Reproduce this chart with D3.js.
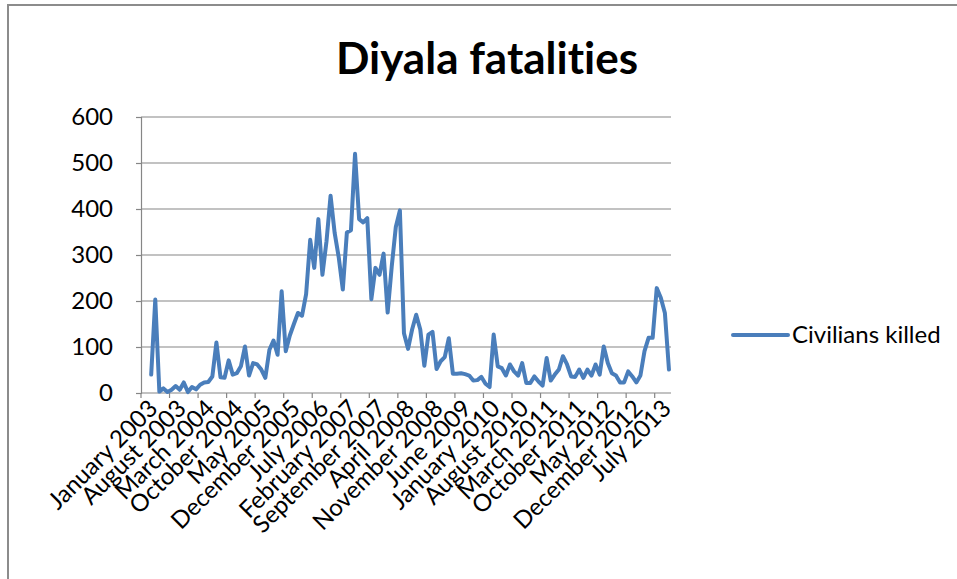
<!DOCTYPE html>
<html lang="en">
<head>
	<meta charset="UTF-8">
	<title>Diyala fatalities</title>
	<script src="https://cdn.jsdelivr.net/npm/d3@7"></script>
	<style>
		body { margin: 0; background: #fff; }
		svg { display: block; }
		text { font-family: Lato, "Open Sans", sans-serif; fill: #000; font-variant-ligatures: none; }
	</style>
</head>
<body>
	<svg id="chart" width="957" height="579"></svg>

	<script>
		// monthly categories, January 2003 .. October 2013
		var monthNames = ["January", "February", "March", "April", "May", "June", "July",
			"August", "September", "October", "November", "December"];
		var years = [2003, 2004, 2005, 2006, 2007, 2008, 2009, 2010, 2011, 2012, 2013];
		var lastMonthIndex = 9; // October 2013

		// civilians killed per month (null = no data)
		var civilians = [
			null, null, 40, 203, 3, 10, 2, 7, 15, 7, 23, 2,
			13, 8, 18, 23, 24, 36, 110, 34, 33, 71, 40, 43,
			58, 101, 38, 65, 62, 51, 33, 94, 114, 83, 221, 91,
			125, 150, 174, 168, 215, 333, 272, 378, 257, 330, 429, 348,
			295, 225, 349, 354, 520, 378, 371, 380, 204, 272, 257, 303,
			175, 275, 361, 397, 130, 96, 138, 170, 138, 59, 127, 133,
			52, 69, 78, 119, 42, 42, 43, 41, 38, 27, 28, 35,
			20, 13, 127, 58, 54, 38, 62, 47, 38, 65, 22, 22,
			36, 25, 16, 76, 27, 40, 51, 80, 62, 36, 35, 51,
			33, 51, 38, 62, 40, 101, 65, 43, 38, 23, 23, 47,
			36, 23, 38, 91, 120, 120, 228, 207, 174, 51
		];

		var yTicks = [0, 100, 200, 300, 400, 500, 600];
		var labelEvery = 7;
		var seriesName = "Civilians killed";
		var title = "Diyala fatalities";

		var categories = [];
		years.forEach(function(y) {
			monthNames.forEach(function(m, i) {
				if (y < years[years.length - 1] || i <= lastMonthIndex) {
					categories.push(m + " " + y);
				}
			});
		});

		var svg = d3.select("#chart");
		var plot = {left: 141, right: 671, top: 117, bottom: 393};
		var grey = "#868686";
		var blue = "#4a7ebb";
		var labelSize = 24;

		// outer frame (only top and left edges visible)
		svg.append("path")
			.attr("d", "M8,579V5H957")
			.attr("fill", "none")
			.attr("stroke", "#8c8c8c")
			.attr("stroke-width", 2);

		var x = d3.scaleBand().domain(categories).range([plot.left, plot.right]);
		var y = d3.scaleLinear().domain([0, 600]).range([plot.bottom, plot.top]);

		// horizontal gridlines
		svg.append("g").selectAll("line").data(yTicks.slice(1)).enter().append("line")
			.attr("x1", plot.left).attr("x2", plot.right)
			.attr("y1", function(d) { return y(d); })
			.attr("y2", function(d) { return y(d); })
			.attr("stroke", grey).attr("stroke-width", 1.2);

		// y axis
		var yAxis = svg.append("g")
			.attr("transform", "translate(" + plot.left + ",0)")
			.call(d3.axisLeft(y).tickValues(yTicks).tickSize(5).tickPadding(23).tickFormat(d3.format("d")));
		yAxis.select(".domain").attr("stroke", grey).attr("stroke-width", 1.2);
		yAxis.selectAll(".tick line").attr("stroke", grey).attr("stroke-width", 1.2);
		yAxis.selectAll(".tick text").attr("font-size", labelSize).attr("font-family", "Lato, sans-serif").attr("fill", "#000");

		// x axis: ticks on category boundaries every 7 months
		var tickCats = categories.filter(function(d, i) { return i % labelEvery === 0; });
		svg.append("line")
			.attr("x1", plot.left).attr("x2", plot.right)
			.attr("y1", plot.bottom).attr("y2", plot.bottom)
			.attr("stroke", grey).attr("stroke-width", 1.2);
		svg.append("g").selectAll("line").data(tickCats).enter().append("line")
			.attr("x1", function(d) { return x(d); })
			.attr("x2", function(d) { return x(d); })
			.attr("y1", plot.bottom).attr("y2", plot.bottom + 5)
			.attr("stroke", grey).attr("stroke-width", 1.2);

		svg.append("g").selectAll("text").data(tickCats).enter().append("text")
			.attr("transform", function(d) {
				return "translate(" + (x(d) + x.bandwidth() / 2 + 10) + "," + (plot.bottom + 11) + ") rotate(-45)";
			})
			.attr("text-anchor", "end")
			.attr("dy", "0.35em")
			.attr("font-size", labelSize)
			.text(function(d) { return d; });

		// series line
		var line = d3.line()
			.defined(function(d) { return d != null; })
			.x(function(d, i) { return x(categories[i]) + x.bandwidth() / 2; })
			.y(function(d) { return y(d); });

		svg.append("path")
			.datum(civilians)
			.attr("d", line)
			.attr("fill", "none")
			.attr("stroke", blue)
			.attr("stroke-width", 4)
			.attr("stroke-linejoin", "round")
			.attr("stroke-linecap", "round");

		// title
		svg.append("text")
			.attr("x", 487).attr("y", 74)
			.attr("text-anchor", "middle")
			.attr("font-size", 44)
			.attr("font-weight", "bold")
			.text(title);

		// legend
		var legend = svg.append("g").attr("transform", "translate(733,335)");
		legend.append("line")
			.attr("x1", 0).attr("x2", 55)
			.attr("stroke", blue).attr("stroke-width", 4)
			.attr("stroke-linecap", "round");
		legend.append("text")
			.attr("x", 59).attr("dy", "0.35em")
			.attr("font-size", labelSize)
			.text(seriesName);
	</script>
</body>
</html>
